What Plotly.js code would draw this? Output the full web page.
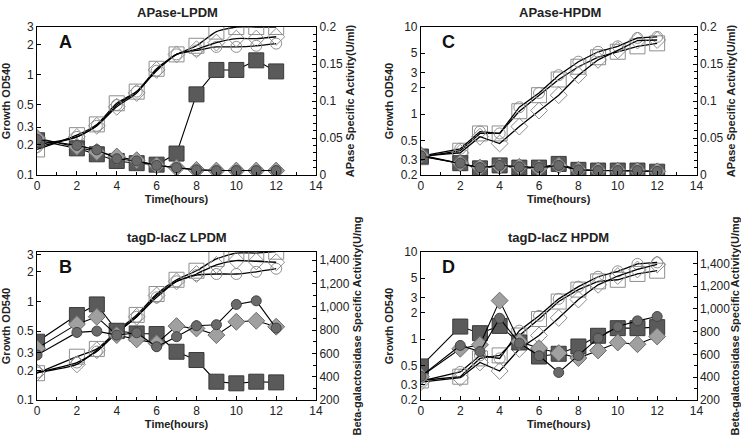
<!DOCTYPE html>
<html>
<head>
<meta charset="utf-8">
<script src="https://cdn.plot.ly/plotly-3.0.1.min.js"></script>
<style>
  html, body { margin: 0; padding: 0; background: #fff; }
  #myChart { width: 741px; height: 436px; }
</style>
</head>
<body>
<div id="myChart"></div>
<script>
const time = [0, 2, 3, 4, 5, 6, 7, 8, 9, 10, 11, 12];

// panel A - APase-LPDM
const aSq = [0.18, 0.25, 0.32, 0.52, 0.68, 1.15, 1.6, 1.95, 2.7, 3.0, 3.0, 3.0];
const aCi = [0.19, 0.24, 0.31, 0.5, 0.68, 1.1, 1.6, 1.75, 1.9, 1.9, 1.95, 2.05];
const aDi = [0.2, 0.24, 0.31, 0.48, 0.66, 1.12, 1.6, 1.8, 2.1, 2.3, 2.3, 2.4];
const aSqAct = [0.047, 0.036, 0.028, 0.019, 0.016, 0.014, 0.029, 0.109, 0.142, 0.142, 0.155, 0.14];
const aDiAct = [0.05, 0.038, 0.031, 0.025, 0.02, 0.013, 0.01, 0.007, 0.006, 0.006, 0.006, 0.006];
const aCiAct = [0.048, 0.04, 0.034, 0.022, 0.019, 0.013, 0.01, 0.007, 0.006, 0.006, 0.006, 0.006];

// panel C - APase-HPDM
const cSq = [0.32, 0.38, 0.6, 0.6, 1.08, 1.65, 2.5, 3.5, 4.5, 5.2, 6.0, 6.5];
const cCi = [0.33, 0.4, 0.63, 0.6, 1.2, 1.75, 2.8, 4.0, 5.2, 6.0, 7.5, 7.7];
const cDi = [0.33, 0.36, 0.55, 0.46, 0.72, 1.1, 1.65, 2.8, 4.2, 5.4, 7.0, 7.1];
const cSqAct = [0.025, 0.016, 0.009, 0.013, 0.010, 0.010, 0.015, 0.007, 0.006, 0.006, 0.006, 0.0045];
const cDiAct = [0.027, 0.016, 0.010, 0.012, 0.011, 0.009, 0.013, 0.007, 0.006, 0.006, 0.006, 0.005];
const cCiAct = [0.026, 0.016, 0.010, 0.013, 0.011, 0.010, 0.013, 0.007, 0.006, 0.006, 0.006, 0.005];

// panel B - tagD-lacZ LPDM
const bSq = [0.187, 0.275, 0.33, 0.5, 0.73, 1.19, 1.66, 2.05, 2.7, 3.1, 3.1, 3.2];
const bCi = [0.19, 0.24, 0.31, 0.48, 0.7, 1.1, 1.6, 1.85, 1.9, 1.9, 2.0, 2.15];
const bDi = [0.19, 0.23, 0.32, 0.48, 0.7, 1.15, 1.6, 1.9, 2.35, 2.6, 2.55, 2.5];
const bSqAct = [700, 929, 1020, 794, 771, 766, 614, 543, 357, 343, 357, 351];
const bDiAct = [643, 851, 914, 757, 720, 686, 834, 814, 757, 871, 880, 829];
const bCiAct = [586, 780, 791, 757, 777, 657, 743, 837, 846, 1020, 1051, 817];

// panel D - tagD-lacZ HPDM
const dSq = [0.335, 0.37, 0.6, 0.65, 1.1, 1.7, 2.7, 3.7, 4.6, 4.8, 5.6, 6.1];
const dCi = [0.33, 0.42, 0.65, 0.6, 1.25, 1.85, 2.9, 4.0, 5.2, 6.0, 7.3, 7.6];
const dDi = [0.32, 0.36, 0.54, 0.43, 0.77, 1.1, 1.75, 2.85, 4.2, 5.3, 6.3, 7.2];
const dSqAct = [495, 845, 787, 851, 705, 582, 606, 670, 764, 831, 831, 840];
const dDiAct = [407, 650, 685, 1073, 714, 655, 612, 568, 635, 705, 690, 758];
const dCiAct = [407, 679, 626, 918, 699, 588, 442, 591, 743, 845, 895, 933];

const logTicksLow = [0.1, 0.2, 0.3, 0.5, 1, 2, 3];
const logTicksHigh = [0.2, 0.3, 0.5, 1, 2, 3, 5, 10];

const FONT = 'Arial, "Liberation Sans", sans-serif';

function growth(y, sym, size, xa, ya, shape) {
	return {
		x: time, y: y, xaxis: xa, yaxis: ya, type: 'scatter', mode: 'lines+markers',
		line: { color: '#000', width: 1.3, shape: shape, smoothing: 0.6 },
		marker: { symbol: sym, size: size, color: '#8f8f8f', line: { width: 1 } },
		showlegend: false
	};
}

function activity(y, sym, size, fill, edge, xa, ya) {
	return {
		x: time, y: y, xaxis: xa, yaxis: ya, type: 'scatter', mode: 'lines+markers',
		line: { color: '#000', width: 1.1 },
		marker: { symbol: sym, size: size, color: fill, line: { color: edge, width: 1 } },
		showlegend: false
	};
}

function panel(g, act, xa, yl, yr, shape) {
	return [
		growth(g[0], 'square-open', 15, xa, yl, shape),
		growth(g[1], 'circle-open', 11, xa, yl, shape),
		growth(g[2], 'diamond-open', 13, xa, yl, shape),
		activity(act[0], 'square', 15, '#5a5a5a', '#3a3a3a', xa, yr),
		activity(act[1], 'diamond', 13, '#a0a0a0', '#6e6e6e', xa, yr),
		activity(act[2], 'circle', 10, '#6a6a6a', '#444', xa, yr)
	];
}

const data = [].concat(
	panel([aSq, aCi, aDi], [aSqAct, aDiAct, aCiAct], 'x', 'y', 'y2', 'spline'),
	panel([cSq, cCi, cDi], [cSqAct, cDiAct, cCiAct], 'x2', 'y3', 'y4', 'linear'),
	panel([bSq, bCi, bDi], [bSqAct, bDiAct, bCiAct], 'x3', 'y5', 'y6', 'spline'),
	panel([dSq, dCi, dDi], [dSqAct, dDiAct, dCiAct], 'x4', 'y7', 'y8', 'linear')
);

const tickF = { family: FONT, size: 12, color: '#222' };
const titleF = { family: FONT, size: 11, color: '#222', weight: 'bold' };

function xAxis(domain, anchor) {
	return {
		domain: domain, anchor: anchor, range: [0, 14], dtick: 2,
		ticks: 'inside', ticklen: 4, tickcolor: '#000',
		minor: { dtick: 1, ticks: 'inside', ticklen: 3, tickcolor: '#000' },
		showgrid: false, zeroline: false, showline: true, linecolor: '#000', linewidth: 1, mirror: true,
		tickfont: tickF,
		title: { text: 'Time(hours)', font: titleF, standoff: 2 }
	};
}

function yLeft(domain, anchor, range, vals) {
	return {
		domain: domain, anchor: anchor, type: 'log', range: range,
		tickvals: vals, ticktext: vals.map(String),
		ticks: 'inside', ticklen: 4, tickcolor: '#000',
		showgrid: false, zeroline: false, showline: true, linecolor: '#000', linewidth: 1,
		tickfont: tickF,
		title: { text: 'Growth OD540', font: titleF, standoff: 4 }
	};
}

function yRight(overlay, anchor, range, dtick, fmt, label, minor) {
	return {
		overlaying: overlay, anchor: anchor, side: 'right', range: range, dtick: dtick,
		tick0: range[0], tickformat: fmt,
		ticks: 'inside', ticklen: 4, tickcolor: '#000',
		minor: { dtick: minor, ticks: 'inside', ticklen: 3, tickcolor: '#000' },
		showgrid: false, zeroline: false, showline: true, linecolor: '#000', linewidth: 1,
		tickfont: tickF,
		title: { text: label, font: titleF, standoff: 4 }
	};
}

const colL = [0.05, 0.4265];
const colR = [0.568, 0.94];
const rowT = [0.5986, 0.938];
const rowB = [0.0826, 0.422];

const apaseLabel = 'APase Specific Activity(U/ml)';
const betaLabel = 'Beta-galactosidase Specific Activity(U/mg';

const layout = {
	width: 741, height: 436,
	margin: { l: 0, r: 0, t: 0, b: 0 },
	paper_bgcolor: '#fff', plot_bgcolor: '#fff',
	font: { family: FONT, color: '#222' },
	showlegend: false,

	xaxis: xAxis(colL, 'y'),
	yaxis: yLeft(rowT, 'x', [-1, Math.log10(3)], logTicksLow),
	yaxis2: yRight('y', 'x', [0, 0.2], 0.05, '', apaseLabel, 0.01),

	xaxis2: xAxis(colR, 'y3'),
	yaxis3: yLeft(rowT, 'x2', [Math.log10(0.2), 1], logTicksHigh),
	yaxis4: yRight('y3', 'x2', [0, 0.2], 0.05, '', apaseLabel, 0.01),

	xaxis3: xAxis(colL, 'y5'),
	yaxis5: yLeft(rowB, 'x3', [-1, 0.502], logTicksLow),
	yaxis6: yRight('y5', 'x3', [200, 1470], 200, ',', betaLabel, 100),

	xaxis4: xAxis(colR, 'y7'),
	yaxis7: yLeft(rowB, 'x4', [Math.log10(0.2), 1], logTicksHigh),
	yaxis8: yRight('y7', 'x4', [200, 1500], 200, ',', betaLabel, 100),

	annotations: [
		{ text: 'APase-LPDM', x: 0.239, y: 0.972 },
		{ text: 'APase-HPDM', x: 0.756, y: 0.972 },
		{ text: 'tagD-lacZ LPDM', x: 0.239, y: 0.455 },
		{ text: 'tagD-lacZ HPDM', x: 0.754, y: 0.455 }
	].map(a => Object.assign(a, {
		xref: 'paper', yref: 'paper', showarrow: false, xanchor: 'center', yanchor: 'middle',
		font: { family: FONT, size: 13, color: '#222', weight: 'bold' }
	})).concat([
		{ text: 'A', xref: 'x domain', yref: 'y domain' },
		{ text: 'C', xref: 'x2 domain', yref: 'y3 domain' },
		{ text: 'B', xref: 'x3 domain', yref: 'y5 domain' },
		{ text: 'D', xref: 'x4 domain', yref: 'y7 domain' }
	].map(a => Object.assign(a, {
		x: 0.07, y: 0.9, showarrow: false, xanchor: 'left', yanchor: 'middle',
		font: { family: FONT, size: 18, color: '#111', weight: 'bold' }
	})))
};

Plotly.newPlot('myChart', data, layout, { staticPlot: true, displayModeBar: false });
</script>
</body>
</html>
